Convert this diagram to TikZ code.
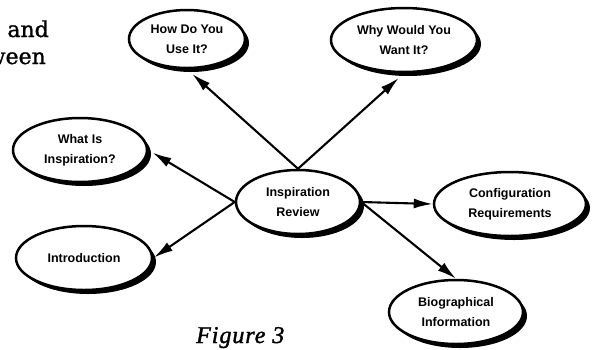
\documentclass[tikz,border=0pt]{standalone}
\usepackage{fontspec}
\setmainfont{Liberation Sans}
\newfontfamily\bodyserif[FakeBold=1.2]{DejaVu Serif}
\newfontfamily\figfont[LetterSpace=4,FakeBold=1.5]{Liberation Serif}
\usetikzlibrary{arrows.meta,shapes.geometric,shadows}
\begin{document}
\begin{tikzpicture}[x=1pt,y=-1pt,
  bubble/.style={ellipse, draw, line width=2.5pt, fill=white, inner sep=0pt,
    align=center, font=\bfseries\fontsize{12.5}{20}\selectfont,
    drop shadow={shadow xshift=4pt, shadow yshift=-4pt, fill=black, opacity=1}},
  link/.style={line width=2.1pt, -{Latex[length=19pt,width=10pt]}},
  bodytext/.style={font=\bodyserif\fontsize{22}{26}\selectfont, inner sep=0pt}]
\clip (0,0) rectangle (600,349);
\useasboundingbox (0,0) rectangle (600,349);

\node[bodytext, anchor=base east] (t1) at (49,37) {and};
\node[bodytext, anchor=base east] (t2) at (46,64) {between};

\node[bubble, minimum width=116pt, minimum height=58pt] (how) at (187,39) {How Do You\\Use It?};
\node[bubble, minimum width=146pt, minimum height=64pt] (why) at (404,40) {Why Would You\\Want It?};
\node[bubble, minimum width=134pt, minimum height=64pt] (what) at (80,150) {What Is\\Inspiration?};
\node[bubble, minimum width=124pt, minimum height=64pt] (rev) at (298,202) {Inspiration\\Review};
\node[bubble, minimum width=136pt, minimum height=64pt] (intro) at (84,258) {Introduction};
\node[bubble, minimum width=152pt, minimum height=64pt] (conf) at (510,204) {Configuration\\Requirements};
\node[bubble, minimum width=134pt, minimum height=64pt] (bio) at (456,312) {Biographical\\Information};

\draw[link, shorten >=7pt] (rev.north) -- (how.south);
\draw[link, shorten >=7pt] (rev.north) -- (why.south);
\draw[link, shorten >=5pt] (rev.west) -- (what.east);
\draw[link, shorten >=1pt] (rev.west) -- (intro.east);
\draw[link] (rev.east) -- (conf.west);
\draw[link] (rev.east) -- (bio.north);

\node[font=\figfont\itshape\fontsize{24}{28}\selectfont, anchor=base west, inner sep=0pt] (fig) at (196,343) {Figure 3};
\end{tikzpicture}
\end{document}
